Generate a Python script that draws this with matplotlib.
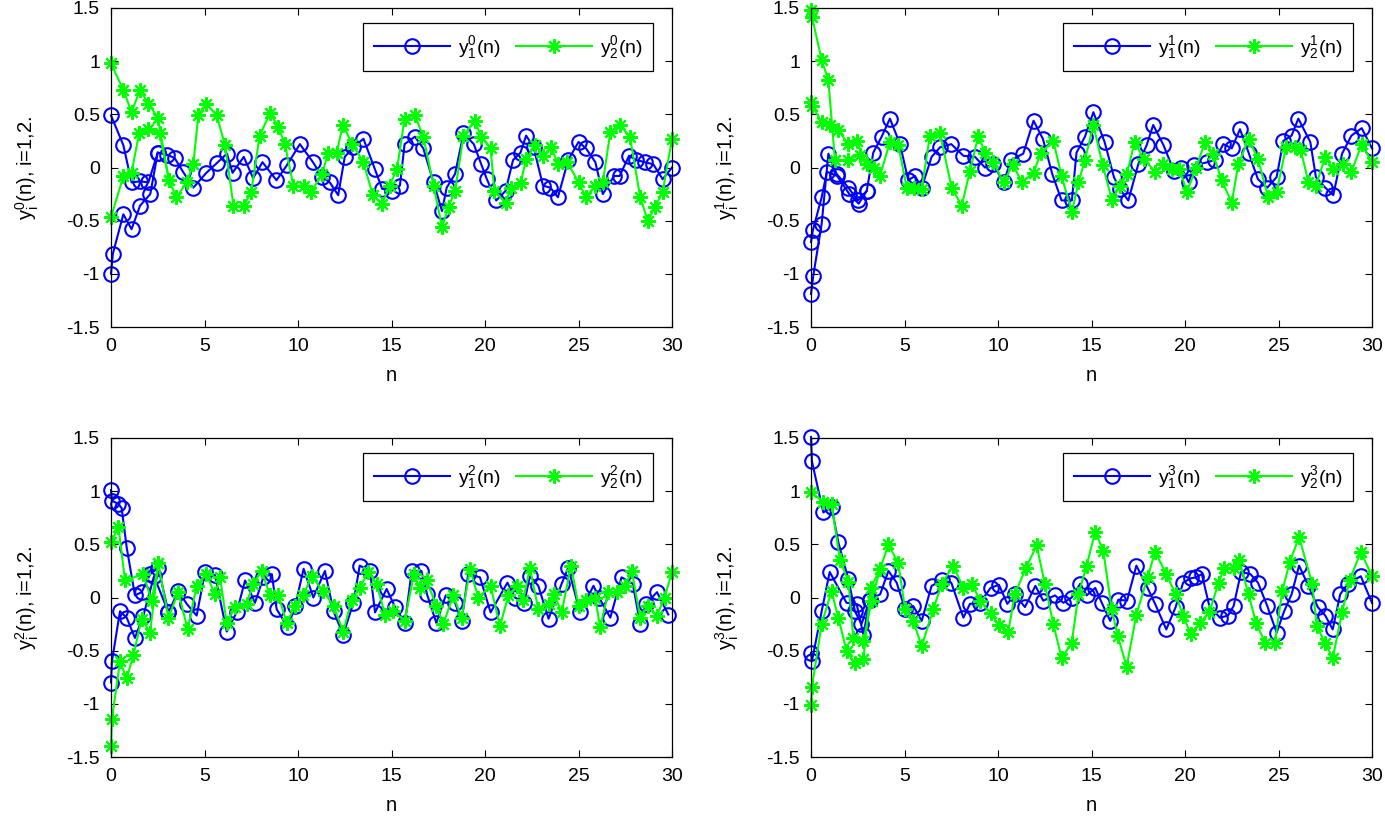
import matplotlib
matplotlib.use('Agg')
import matplotlib.pyplot as plt
import numpy as np

plt.rcParams['font.family'] = ['Liberation Sans', 'DejaVu Sans']
plt.rcParams['mathtext.fontset'] = 'custom'
plt.rcParams['mathtext.rm'] = 'Liberation Sans'
plt.rcParams['mathtext.it'] = 'Liberation Sans:italic'
plt.rcParams['axes.unicode_minus'] = False

# ---- panel k=0 ----
n_b0 = [0, 0.66, 1.1, 1.55, 2.0, 2.5, 3.0, 3.4, 3.85, 4.4, 5.1, 5.65, 6.2, 6.5, 7.1, 7.6, 8.1, 8.85, 9.4, 10.1,
        10.8, 11.3, 11.7, 12.15, 12.5, 12.95, 13.5, 14.1, 14.5, 15.0, 15.45, 15.7, 16.25, 16.7, 17.25, 17.7, 17.95,
        18.4, 18.85, 19.4, 19.8, 20.1, 20.6, 21.1, 21.5, 21.9, 22.2, 22.6, 23.1, 23.5, 23.9, 24.45, 25.0, 25.4,
        25.9, 26.3, 26.9, 27.2, 27.7, 28.1, 28.55, 29.0, 29.5, 30.0]
y_b0 = [0.49, 0.21, -0.14, -0.13, -0.14, 0.14, 0.12, 0.09, -0.04, -0.19, -0.05, 0.04, 0.13, -0.05, 0.1, -0.1, 0.05, -0.12, 0.02, 0.22,
        0.05, -0.09, -0.14, -0.26, 0.1, 0.19, 0.27, -0.01, -0.2, -0.22, -0.17, 0.22, 0.29, 0.18, -0.14, -0.41, -0.19,
        -0.06, 0.32, 0.22, 0.03, -0.11, -0.31, -0.22, 0.07, 0.14, 0.3, 0.19, -0.17, -0.19, -0.28, 0.07, 0.24, 0.18,
        0.05, -0.25, -0.08, -0.08, 0.11, 0.07, 0.05, 0.03, -0.11, 0.0]
n_b0s = [0, 0.1, 0.66, 1.1, 1.55, 2.1, 2.5]
y_b0s = [-1.0, -0.81, -0.44, -0.58, -0.36, -0.25, 0.14]
n_g0 = [0, 0.66, 1.1, 1.55, 2.0, 2.5, 3.1, 3.5, 4.05, 4.4, 4.67, 5.1, 5.65, 6.1, 6.55, 7.1, 7.5, 7.95, 8.5, 8.95, 9.3,
        9.75, 10.3, 10.7, 11.3, 11.6, 12.07, 12.4, 12.9, 13.5, 14.0, 14.5, 14.9, 15.3, 15.7, 16.25, 16.7, 17.25,
        17.7, 18.05, 18.4, 18.85, 19.45, 19.8, 20.3, 20.5, 21.1, 21.4, 21.9, 22.2, 22.7, 23.1, 23.55, 23.9, 24.4,
        25.0, 25.4, 25.9, 26.3, 26.7, 27.2, 27.75, 28.3, 28.7, 29.1, 29.5, 30.0]
y_g0 = [0.98, 0.73, 0.52, 0.73, 0.6, 0.47, -0.12, -0.28, -0.14, 0.03, 0.49, 0.6, 0.49, 0.21, -0.36, -0.36, -0.23, 0.3, 0.51, 0.38, 0.22,
        -0.17, -0.17, -0.23, -0.06, 0.14, 0.14, 0.4, 0.22, 0.05, -0.26, -0.34, -0.17, -0.01, 0.46, 0.49, 0.29, -0.17,
        -0.56, -0.37, -0.22, 0.3, 0.44, 0.29, 0.18, -0.22, -0.33, -0.19, -0.15, 0.08, 0.21, 0.11, 0.19, 0.03, 0.05,
        -0.14, -0.28, -0.17, -0.14, 0.33, 0.4, 0.29, -0.28, -0.5, -0.37, -0.23, 0.27]
n_g0s = [0, 0.66, 1.1, 1.5, 2.0, 2.6, 3.1]
y_g0s = [-0.47, -0.08, -0.05, 0.32, 0.36, 0.32, -0.12]

# ---- panel k=1 ----
n_b1 = [0, 0.12, 0.57, 0.93, 1.37, 2.0, 2.5, 2.98, 3.33, 3.78, 4.22, 4.76, 5.2, 5.56, 5.92, 6.45, 6.9, 7.5, 8.15, 8.77,
        9.3, 9.75, 10.3, 10.7, 11.35, 11.9, 12.4, 12.9, 13.4, 13.95, 14.2, 14.65, 15.1, 15.7, 16.2, 16.5, 16.97,
        17.5, 17.95, 18.3, 18.85, 19.4, 19.8, 20.2, 20.5, 21.2, 21.6, 22.05, 22.5, 22.94, 23.4, 23.9, 24.4, 24.9,
        25.26, 25.7, 26.06, 26.7, 27.0, 27.5, 27.93, 28.4, 28.9, 29.45, 30.0]
y_b1 = [-1.19, -1.02, -0.53, 0.13, -0.06, -0.19, -0.31, -0.22, 0.14, 0.29, 0.46, 0.22, -0.12, -0.08, -0.19, 0.1, 0.19, 0.22, 0.11, 0.1,
        0.0, 0.03, -0.14, 0.07, 0.13, 0.44, 0.27, -0.06, -0.31, -0.31, 0.14, 0.29, 0.52, 0.24, -0.09, -0.2, -0.31,
        0.03, 0.21, 0.4, 0.21, -0.03, 0.0, -0.14, 0.02, 0.05, 0.07, 0.22, 0.18, 0.36, 0.14, -0.11, -0.19, -0.09,
        0.25, 0.3, 0.46, 0.24, -0.09, -0.19, -0.26, 0.13, 0.3, 0.37, 0.18]
n_b1s = [0, 0.1, 0.57, 0.85, 1.4, 2.05, 2.55, 2.98]
y_b1s = [-0.7, -0.59, -0.28, -0.04, -0.08, -0.25, -0.34, -0.22]
n_g1 = [0, 0.05, 0.57, 0.93, 1.28, 2.0, 2.6, 2.98, 3.35, 3.69, 4.22, 4.67, 5.12, 5.5, 5.92, 6.36, 6.9, 7.52, 8.06, 8.5,
        8.95, 9.3, 9.75, 10.3, 10.8, 11.27, 11.9, 12.3, 12.96, 13.4, 13.95, 14.3, 14.65, 15.1, 15.6, 16.1, 16.5,
        16.9, 17.3, 17.8, 18.4, 18.85, 19.3, 19.7, 20.1, 20.6, 21.07, 21.5, 21.96, 22.5, 22.85, 23.4, 23.9, 24.45,
        24.9, 25.4, 25.9, 26.2, 26.6, 27.0, 27.5, 27.9, 28.45, 28.9, 29.45, 30.0]
y_g1 = [1.48, 1.42, 1.01, 0.82, 0.07, 0.07, 0.12, 0.03, 0.0, -0.08, 0.24, 0.21, -0.19, -0.19, -0.2, 0.3, 0.32, -0.19, -0.36, -0.03,
        0.3, 0.14, 0.05, -0.14, 0.03, -0.14, -0.05, 0.14, 0.25, -0.08, -0.42, -0.14, 0.07, 0.4, 0.02, -0.31, -0.17,
        -0.06, 0.24, 0.08, -0.04, 0.03, -0.01, -0.01, -0.23, 0.0, 0.24, 0.13, -0.12, -0.33, 0.03, 0.27, 0.08, -0.28,
        -0.23, 0.19, 0.19, 0.16, -0.14, -0.17, 0.1, -0.01, 0.03, -0.04, 0.22, 0.05]
n_g1s = [0, 0.05, 0.57, 1.0, 1.46, 2.0, 2.44, 2.98]
y_g1s = [0.62, 0.58, 0.43, 0.4, 0.35, 0.22, 0.25, 0.03]

# ---- panel k=2 ----
n_b2 = [0, 0.05, 0.4, 0.57, 0.84, 1.28, 1.64, 2.09, 2.53, 3.07, 3.6, 4.05, 4.58, 5.03, 5.56, 6.19, 6.72, 7.17, 7.7, 8.15,
        8.6, 8.86, 9.45, 9.85, 10.3, 10.82, 11.44, 11.9, 12.42, 12.96, 13.3, 13.85, 14.12, 14.74, 15.19, 15.72,
        16.08, 16.6, 16.9, 17.4, 17.9, 18.4, 18.75, 19.1, 19.73, 20.3, 21.2, 21.6, 22.1, 22.4, 22.85, 23.4, 24.1,
        24.45, 25.08, 25.8, 26.1, 26.7, 27.3, 27.9, 28.3, 28.6, 29.2, 29.8]
y_b2 = [1.01, 0.91, 0.88, 0.84, 0.47, 0.02, 0.05, 0.22, 0.28, -0.14, 0.06, -0.06, -0.17, 0.24, 0.21, -0.32, -0.14, 0.16, -0.05, 0.19,
        0.22, -0.11, -0.28, -0.08, 0.27, 0.0, 0.25, -0.13, -0.35, -0.05, 0.3, 0.25, -0.14, 0.08, -0.09, -0.24,
        0.25, 0.25, 0.03, -0.24, 0.02, -0.05, -0.22, 0.22, 0.19, -0.14, 0.14, 0.0, -0.05, 0.2, 0.11, -0.2, 0.13,
        0.28, -0.14, 0.11, 0.0, -0.19, 0.19, 0.13, -0.25, -0.06, 0.05, -0.16]
n_b2s = [0, 0.05, 0.48, 0.84, 1.28, 1.73, 2.3, 3.07]
y_b2s = [-0.8, -0.6, -0.13, -0.19, -0.38, -0.17, 0.2, -0.14]
n_g2 = [0, 0.4, 0.75, 1.73, 2.17, 2.53, 3.07, 3.6, 4.1, 4.58, 5.1, 5.56, 5.83, 6.19, 6.63, 7.25, 7.6, 8.06, 8.5, 8.95,
        9.4, 9.84, 10.28, 10.73, 11.35, 11.9, 12.42, 12.87, 13.3, 13.76, 14.2, 14.65, 15.1, 15.7, 16.2, 16.5,
        16.88, 17.4, 17.77, 18.3, 18.75, 19.2, 19.64, 20.3, 20.8, 21.25, 21.7, 22.05, 22.4, 22.85, 23.4, 23.7,
        24.1, 24.6, 25.0, 25.4, 25.9, 26.15, 26.6, 27.04, 27.5, 27.85, 28.3, 28.7, 29.2, 29.6, 30.0]
y_g2 = [0.52, 0.66, 0.16, 0.22, -0.03, 0.32, -0.19, 0.05, -0.3, 0.11, 0.22, 0.03, 0.19, -0.24, -0.09, -0.06, 0.13, 0.25, 0.02, 0.02,
        -0.24, -0.08, 0.02, 0.2, 0.06, -0.08, -0.32, -0.02, 0.09, 0.24, 0.13, -0.16, -0.13, -0.22, 0.22, 0.09,
        0.16, -0.08, -0.25, 0.02, -0.19, 0.27, 0.0, 0.11, -0.27, 0.02, 0.11, -0.02, 0.28, -0.11, -0.06, 0.03,
        -0.14, 0.3, -0.08, -0.02, 0.0, -0.28, 0.05, 0.05, 0.11, 0.25, -0.19, -0.08, -0.17, 0.0, 0.24]
n_g2s = [0, 0.05, 0.48, 0.84, 1.2, 1.64, 2.09, 2.53]
y_g2s = [-1.4, -1.14, -0.6, -0.76, -0.54, -0.2, -0.33, 0.32]

# ---- panel k=3 ----
n_b3 = [0, 0.05, 0.66, 1.1, 1.46, 2.0, 2.35, 2.7, 3.15, 3.7, 4.14, 4.58, 5.03, 5.47, 5.92, 6.45, 7.0, 7.5, 8.15, 8.5,
        9.04, 9.6, 10.05, 10.5, 10.9, 11.44, 12.0, 12.42, 13.05, 13.5, 13.94, 14.4, 14.74, 15.2, 15.55, 16.0,
        16.44, 16.9, 17.4, 18.0, 18.4, 19.0, 19.5, 19.9, 20.3, 20.6, 20.9, 21.3, 21.87, 22.3, 22.6, 23.0, 23.5,
        23.9, 24.4, 24.9, 25.3, 25.7, 26.1, 26.6, 27.1, 27.5, 27.9, 28.3, 28.7, 29.4, 30.0]
y_b3 = [1.51, 1.28, 0.8, 0.85, 0.52, 0.17, -0.13, -0.25, -0.02, 0.03, 0.25, 0.14, -0.11, -0.08, -0.22, 0.11, 0.16, 0.14, -0.19, -0.06,
        -0.05, 0.09, 0.12, -0.06, 0.03, -0.09, 0.11, -0.03, 0.02, -0.05, 0.0, 0.13, 0.02, 0.09, -0.05, -0.22,
        -0.02, -0.03, 0.3, 0.09, -0.06, -0.3, -0.09, 0.14, 0.18, 0.19, 0.22, -0.08, -0.19, -0.17, -0.08, 0.24, 0.22,
        0.14, -0.08, -0.33, -0.13, 0.03, 0.3, 0.11, -0.09, -0.17, -0.3, 0.03, 0.13, 0.2, -0.05]
n_b3s = [0, 0.05, 0.57, 1.0, 1.9, 2.44, 2.8, 3.15]
y_b3s = [-0.52, -0.6, -0.13, 0.24, -0.05, -0.06, -0.35, -0.02]
n_g3 = [0, 0.66, 1.1, 1.55, 2.0, 2.26, 2.8, 3.24, 3.7, 4.14, 4.67, 5.03, 5.47, 5.92, 6.54, 7.0, 7.6, 8.15, 8.6, 9.04,
        9.6, 10.05, 10.55, 10.9, 11.5, 12.07, 12.5, 12.96, 13.4, 13.94, 14.3, 14.74, 15.2, 15.63, 16.08, 16.4,
        16.88, 17.4, 18.0, 18.4, 19.0, 19.5, 19.9, 20.3, 20.8, 21.3, 21.8, 22.1, 22.6, 22.9, 23.4, 23.8, 24.3,
        24.8, 25.2, 25.6, 26.1, 26.8, 27.05, 27.5, 27.9, 28.4, 28.8, 29.4, 30.0]
y_g3 = [0.99, 0.9, 0.88, 0.35, 0.15, -0.38, -0.41, -0.03, 0.27, 0.5, 0.32, -0.11, -0.22, -0.46, -0.11, 0.13, 0.3, 0.09, 0.13, -0.03,
        -0.15, -0.26, -0.32, 0.03, 0.28, 0.49, 0.13, -0.25, -0.57, -0.43, 0.03, 0.3, 0.62, 0.44, -0.11, -0.36,
        -0.65, -0.16, 0.19, 0.43, 0.22, 0.03, -0.17, -0.34, -0.24, -0.14, 0.14, 0.28, 0.28, 0.35, 0.03, -0.24, -0.43,
        -0.43, 0.06, 0.33, 0.57, 0.13, -0.27, -0.43, -0.57, -0.14, 0.16, 0.43, 0.2]
n_g3s = [0, 0.05, 0.57, 1.1, 1.46, 1.9, 2.35, 2.8, 3.2, 3.7]
y_g3s = [-1.01, -0.84, -0.25, 0.06, -0.19, -0.5, -0.62, -0.58, 0.09, 0.27]

panels = [
    (n_b0, y_b0, n_b0s, y_b0s, n_g0, y_g0, n_g0s, y_g0s),
    (n_b1, y_b1, n_b1s, y_b1s, n_g1, y_g1, n_g1s, y_g1s),
    (n_b2, y_b2, n_b2s, y_b2s, n_g2, y_g2, n_g2s, y_g2s),
    (n_b3, y_b3, n_b3s, y_b3s, n_g3, y_g3, n_g3s, y_g3s),
]

x_ticks = [0, 5, 10, 15, 20, 25, 30]
y_ticks = [-1.5, -1, -0.5, 0, 0.5, 1, 1.5]
y_tick_labels = ['-1.5', '-1', '-0.5', '0', '0.5', '1', '1.5']

W, H = 1385, 823
fig = plt.figure(figsize=(W / 100, H / 100), dpi=100)

# axes boxes in pixels: left, top
boxes = [(111, 8), (811, 8), (111, 438), (811, 438)]
aw, ah = 561, 319

blue_kw = dict(color=(0, 0, 1), lw=1.5, marker='o', ms=10.5, mfc='none', mew=1.5, clip_on=False)
green_kw = dict(color=(0, 1, 0), lw=1.5, marker=(8, 2, 0), ms=10.5, mew=1.5, clip_on=False)

for k, (box, data) in enumerate(zip(boxes, panels)):
    nb, yb, nbs, ybs, ng, yg, ngs, ygs = data
    left, top = box
    ax = fig.add_axes([left / W, 1 - (top + ah) / H, aw / W, ah / H])

    ax.plot(nbs, ybs, **blue_kw)
    lb, = ax.plot(nb, yb, label=r'$\mathrm{y_1^%d(n)}$' % k, **blue_kw)
    ax.plot(ngs, ygs, **green_kw)
    lg, = ax.plot(ng, yg, label=r'$\mathrm{y_2^%d(n)}$' % k, **green_kw)

    ax.set_xlim(0, 30)
    ax.set_ylim(-1.5, 1.5)
    ax.set_xticks(x_ticks)
    ax.set_yticks(y_ticks)
    ax.set_yticklabels(y_tick_labels)
    ax.tick_params(direction='in', top=True, right=True, length=5, width=0.8, labelsize=14, pad=8)
    for s in ax.spines.values():
        s.set_linewidth(0.9)
    ax.set_xlabel('n', fontsize=14.5, labelpad=8)
    ax.set_ylabel(r'$\mathrm{y_i^%d(n)}$, i=1,2.' % k, fontsize=14.5, labelpad=18)

    leg = ax.legend(handles=[lb, lg], ncol=2, loc='upper right',
                    bbox_to_anchor=(0.966, 0.953), borderaxespad=0,
                    fancybox=False, framealpha=1, edgecolor='black',
                    fontsize=14, handlelength=3.9, columnspacing=0.8,
                    handletextpad=0.4, borderpad=0.55)
    leg.get_frame().set_linewidth(0.9)

fig.savefig('out.png', dpi=100)
